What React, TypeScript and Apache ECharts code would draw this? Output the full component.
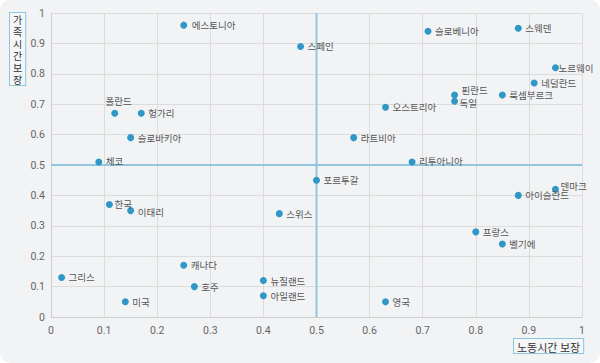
import React, { useEffect, useRef } from "react";
import * as echarts from "echarts";

const countries = [
  "에스토니아", "스페인", "폴란드", "헝가리", "슬로바키아", "체코",
  "슬로베니아", "스웨덴", "노르웨이", "네덜란드", "핀란드", "독일",
  "룩셈부르크", "오스트리아", "라트비아", "리투아니아", "포르투갈", "덴마크",
  "아이슬란드", "프랑스", "벨기에", "영국", "한국", "이태리",
  "스위스", "캐나다", "그리스", "호주", "뉴질랜드", "아일랜드", "미국",
];
const workTime = [
  0.25, 0.47, 0.12, 0.17, 0.15, 0.09,
  0.71, 0.88, 0.95, 0.91, 0.76, 0.76,
  0.85, 0.63, 0.57, 0.68, 0.5, 0.95,
  0.88, 0.8, 0.85, 0.63, 0.11, 0.15,
  0.43, 0.25, 0.02, 0.27, 0.4, 0.4, 0.14,
];
const familyTime = [
  0.96, 0.89, 0.67, 0.67, 0.59, 0.51,
  0.94, 0.95, 0.82, 0.77, 0.73, 0.71,
  0.73, 0.69, 0.59, 0.51, 0.45, 0.42,
  0.4, 0.28, 0.24, 0.05, 0.37, 0.35,
  0.34, 0.17, 0.13, 0.1, 0.12, 0.07, 0.05,
];
const axisMin = 0;
const axisMax = 1;
const refX = 0.5;
const refY = 0.5;
const xTitle = "노동시간 보장";
const yTitle = "가족시간보장";

const labelTweaks: Record<string, any> = {
  "폴란드": { position: "top", distance: 4, offset: [4, 0] },
  "핀란드": { offset: [0, -5] },
  "독일": { offset: [-2, 2] },
  "노르웨이": { offset: [-4, 0] },
  "한국": { offset: [-2, -1] },
  "덴마크": { offset: [-2, -3] },
  "에스토니아": { offset: [1, 0] },
  "이태리": { offset: [0, 1] },
  "체코": { offset: [0, -1] },
  "리투아니아": { offset: [0, -1] },
};

export default function App() {
  const ref = useRef<HTMLDivElement>(null);
  useEffect(() => {
    document.body.style.margin = "0";
    const chart = echarts.init(ref.current!, null, { renderer: "svg" });
    const font = "'Noto Sans CJK KR', 'Noto Sans', sans-serif";
    const data = countries.map((n, i) => {
      const d: any = { name: n, value: [workTime[i], familyTime[i]] };
      if (labelTweaks[n]) d.label = labelTweaks[n];
      return d;
    });
    const refLine = (pts: number[][]) => ({
      type: "line",
      z: 1,
      silent: true,
      symbol: "none",
      lineStyle: { color: "#92c6de", width: 2 },
      data: pts,
    });
    chart.setOption({
      animation: false,
      graphic: [
        {
          type: "rect",
          z: -10,
          shape: { x: 0, y: 0, width: 600, height: 363, r: 10 },
          style: { fill: "#f2f3f5" },
        },
        {
          type: "text",
          left: 9,
          top: 12,
          style: {
            text: yTitle.split("").join("\n"),
            font: `10px ${font}`,
            lineHeight: 12,
            fill: "#333",
            align: "center",
            backgroundColor: "#f5f6f8",
            borderColor: "#8cc5dc",
            borderWidth: 1,
            padding: [0, 3, 0, 3],
          },
        },
        {
          type: "text",
          left: 513,
          top: 338,
          style: {
            text: xTitle,
            font: `11px ${font}`,
            fill: "#333",
            backgroundColor: "#f5f6f8",
            borderColor: "#8cc5dc",
            borderWidth: 1,
            padding: [2, 3, 1, 3],
          },
        },
      ],
      grid: { left: 51, right: 18, top: 13, bottom: 46, containLabel: false },
      xAxis: {
        type: "value",
        min: axisMin,
        max: axisMax,
        interval: 0.1,
        axisLine: { show: true, lineStyle: { color: "#cfcfcf" } },
        axisTick: { show: false },
        splitLine: { show: true, lineStyle: { color: "#dcdcdc" } },
        axisLabel: { color: "#666", fontSize: 10.5, fontFamily: "Roboto", margin: 8 },
      },
      yAxis: {
        type: "value",
        min: axisMin,
        max: axisMax,
        interval: 0.1,
        axisLine: { show: true, lineStyle: { color: "#cfcfcf" } },
        axisTick: { show: false },
        splitLine: { show: true, lineStyle: { color: "#dcdcdc" } },
        axisLabel: { color: "#666", fontSize: 10.5, fontFamily: "Roboto", margin: 6 },
      },
      series: [
        refLine([[refX, axisMin], [refX, axisMax]]),
        refLine([[axisMin, refY], [axisMax, refY]]),
        {
          type: "scatter",
          z: 3,
          symbolSize: 7,
          itemStyle: { color: "#2f98c6", opacity: 1 },
          data,
          label: {
            show: true,
            position: "right",
            distance: 3.5,
            formatter: "{b}",
            color: "#555",
            fontSize: 9.5,
            fontFamily: font,
          },
        },
      ],
    });
    return () => chart.dispose();
  }, []);
  return <div ref={ref} style={{ width: 600, height: 363 }} />;
}
